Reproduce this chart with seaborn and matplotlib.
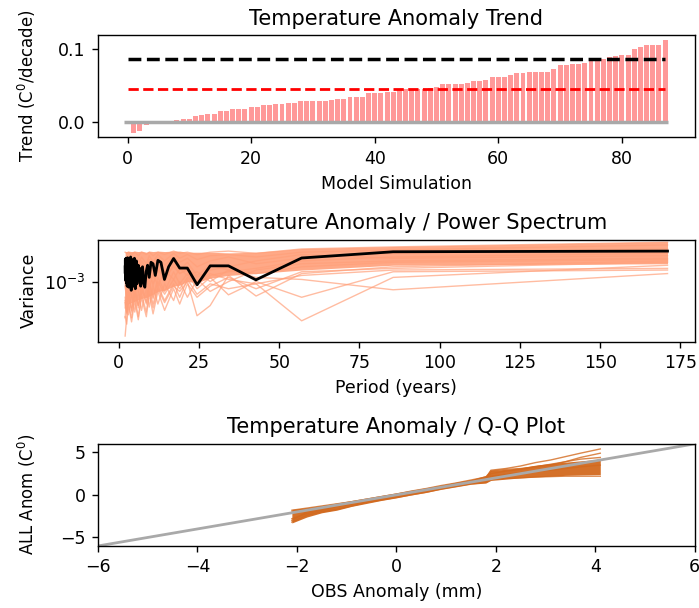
import numpy as np
import pandas as pd
import seaborn as sns
import matplotlib
matplotlib.use("Agg")
import matplotlib.pyplot as plt
from matplotlib.ticker import NullLocator

#######################################################
# Panel 1: trend of each model simulation (sorted), C0/decade
model_trend = [0.0, -0.014, -0.012, -0.004, 0.0, 0.0, 0.0, 0.0, 0.003, 0.005,
               0.005, 0.0086, 0.0104, 0.012, 0.012, 0.0154, 0.0154, 0.0176, 0.0176, 0.0176,
               0.021, 0.021, 0.023, 0.023, 0.025, 0.025, 0.0267, 0.0267, 0.0285, 0.0285,
               0.0285, 0.0285, 0.0285, 0.0303, 0.0321, 0.0321, 0.0339, 0.0339, 0.0339, 0.0394,
               0.0394, 0.0394, 0.0412, 0.0412, 0.0448, 0.0448, 0.0448, 0.0448, 0.0457, 0.0466,
               0.0484, 0.0516, 0.0516, 0.0516, 0.0516, 0.0538, 0.0557, 0.0557, 0.0575, 0.0611,
               0.0611, 0.0611, 0.0647, 0.0665, 0.0665, 0.0683, 0.0683, 0.0683, 0.0683, 0.0719,
               0.0774, 0.0774, 0.0792, 0.0792, 0.0810, 0.0828, 0.0846, 0.0864, 0.0882, 0.0900,
               0.0910, 0.0919, 0.0991, 0.1027, 0.1045, 0.1045, 0.1045, 0.1118]
model_sim = list(range(len(model_trend)))
obs_trend = 0.0865        # black dashed
ens_mean_trend = 0.0455   # red dashed

#######################################################
# Panel 2: power spectrum (variance in units of 1e-3)
obs_period = [171.00, 85.50, 57.00, 42.75, 34.20, 28.50, 24.43, 21.38, 19.00, 17.10,
              15.55, 14.25, 13.15, 12.21, 11.40, 10.69, 10.06, 9.50, 9.00, 8.55,
              8.14, 7.77, 7.43, 7.13, 6.84, 6.58, 6.33, 6.11, 5.90, 5.70,
              5.52, 5.34, 5.18, 5.03, 4.89, 4.75, 4.62, 4.50, 4.38, 4.28,
              4.17, 4.07, 3.98, 3.89, 3.80, 3.72, 3.64, 3.56, 3.49, 3.42,
              3.35, 3.29, 3.23, 3.17, 3.11, 3.05, 3.00, 2.95, 2.90, 2.85,
              2.80, 2.76, 2.71, 2.67, 2.63, 2.59, 2.55, 2.51, 2.48, 2.44,
              2.41, 2.38, 2.34, 2.31, 2.28, 2.25, 2.22, 2.19, 2.16, 2.14,
              2.11, 2.09, 2.06, 2.04, 2.01]
obs_var = [2.00, 1.97, 1.71, 1.04, 1.43, 1.43, 0.93, 1.36, 1.36, 1.69,
           1.40, 1.05, 1.55, 1.62, 1.15, 1.50, 1.55, 1.10, 1.45, 1.25,
           0.88, 0.95, 1.40, 1.30, 0.90, 1.35, 1.20, 1.45, 1.10, 0.95,
           1.60, 1.30, 0.85, 1.20, 1.70, 1.05, 0.90, 1.45, 1.25, 1.65,
           0.95, 1.10, 1.55, 0.82, 1.35, 1.75, 1.15, 0.92, 1.50, 1.40,
           1.00, 1.70, 1.20, 0.88, 1.60, 1.30, 1.05, 1.65, 0.95, 1.45,
           1.25, 1.72, 1.00, 1.35, 0.90, 1.55, 1.15, 1.68, 1.40, 0.97,
           1.28, 1.62, 1.08, 1.50, 1.22, 1.70, 1.02, 1.38, 1.58, 1.12,
           1.45, 1.30, 1.65, 1.20, 1.40]

ens_period = [171.0, 85.5, 57.0, 42.8, 34.2, 28.5, 24.4, 21.4, 19.0, 17.1, 14.3,
              12.2, 10.7, 9.5, 8.6, 7.1, 6.1, 5.0, 4.0, 3.0, 2.5, 2.0]
# dense core of the model ensemble
ens_upper = [2.48, 2.22, 2.12, 1.95, 1.92, 1.95, 1.95, 1.95, 2.00, 2.00, 1.98,
             2.00, 1.98, 2.00, 1.95, 2.00, 1.98, 2.00, 1.98, 2.00, 1.98, 1.98]
ens_lower = [1.50, 1.45, 1.30, 1.20, 1.15, 1.08, 0.98, 1.00, 0.92, 0.90, 0.82,
             0.80, 0.75, 0.72, 0.70, 0.68, 0.66, 0.64, 0.62, 0.60, 0.60, 0.60]
# individual model runs
ens_runs = {
    "m1": [1.45, 1.10, 0.41, 0.95, 1.05, 1.20, 1.00, 1.30, 1.20, 1.40, 1.10,
           1.30, 0.95, 1.25, 1.00, 1.35, 0.90, 1.20, 0.80, 1.10, 0.60, 1.00],
    "m2": [1.20, 0.83, 1.05, 1.10, 1.30, 1.00, 1.25, 1.15, 1.35, 1.05, 1.30,
           0.90, 1.20, 0.85, 1.15, 0.75, 1.10, 0.70, 1.00, 0.65, 0.95, 0.55],
    "m3": [1.30, 1.25, 0.70, 1.00, 0.74, 1.10, 0.85, 1.20, 0.95, 1.25, 0.80,
           1.10, 0.70, 1.05, 0.60, 0.95, 0.55, 0.90, 0.50, 0.80, 0.45, 0.29],
    "m4": [1.60, 1.40, 1.20, 0.72, 1.15, 0.58, 0.46, 1.00, 0.80, 0.90, 0.62,
           0.85, 0.55, 0.80, 0.50, 0.75, 0.45, 0.70, 0.44, 0.60, 0.50, 0.65],
    "m5": [2.45, 2.20, 2.10, 1.90, 2.00, 1.95, 1.85, 1.95, 1.90, 2.00, 1.85,
           1.95, 1.80, 1.95, 1.85, 1.95, 1.80, 1.95, 1.85, 1.95, 1.90, 1.95],
    "m6": [2.10, 1.90, 1.70, 1.50, 1.75, 1.60, 1.40, 1.70, 1.55, 1.75, 1.45,
           1.70, 1.40, 1.65, 1.35, 1.60, 1.30, 1.55, 1.25, 1.50, 1.20, 1.45],
    "m7": [1.80, 1.70, 1.85, 1.60, 1.40, 1.30, 1.10, 1.35, 1.20, 1.50, 1.00,
           1.40, 0.90, 1.30, 0.85, 1.20, 0.80, 1.10, 0.70, 1.00, 0.65, 0.90],
    "m8": [1.35, 1.30, 1.15, 0.95, 0.85, 0.95, 0.75, 1.05, 0.70, 0.95, 0.65,
           0.90, 0.60, 0.85, 0.70, 0.80, 0.58, 0.75, 0.52, 0.70, 0.48, 0.62],
    "m9": [1.65, 1.55, 1.40, 1.20, 1.30, 1.45, 1.15, 1.55, 1.30, 1.60, 1.20,
           1.55, 1.10, 1.50, 1.05, 1.45, 1.00, 1.40, 0.95, 1.35, 0.90, 1.30],
    "m10": [2.30, 2.05, 1.95, 1.75, 1.85, 1.80, 1.65, 1.85, 1.70, 1.90, 1.60,
            1.85, 1.55, 1.80, 1.50, 1.75, 1.45, 1.70, 1.40, 1.65, 1.35, 1.60],
    "m11": [1.55, 1.35, 1.25, 0.85, 1.10, 0.90, 0.70, 0.95, 0.60, 0.85, 0.52,
            0.80, 0.48, 0.75, 0.45, 0.70, 0.42, 0.65, 0.40, 0.60, 0.38, 0.45],
    "m12": [1.90, 1.75, 1.60, 1.35, 1.25, 1.15, 0.95, 1.10, 0.85, 1.05, 0.75,
            1.00, 0.68, 0.95, 0.62, 0.90, 0.58, 0.85, 0.55, 0.80, 0.50, 0.70],
    "m13": [1.70, 1.60, 1.50, 1.30, 1.00, 0.80, 1.05, 0.70, 1.00, 0.65, 0.95,
            0.60, 0.90, 0.56, 0.85, 0.52, 0.80, 0.50, 0.75, 0.47, 0.70, 0.44],
}

#######################################################
# Panel 3: Q-Q plot
obs_q = [-2.1, -1.8, -1.5, -1.2, -0.9, -0.6, -0.3, 0.0, 0.3, 0.6, 0.9,
         1.2, 1.5, 1.8, 1.9, 2.2, 2.5, 2.8, 3.1, 3.4, 3.7, 4.1]
qq_lower = [-3.3, -2.6, -2.1, -1.8, -1.35, -1.0, -0.65, -0.35, 0.0, 0.3, 0.65,
            0.95, 1.25, 1.4, 1.7, 1.85, 2.0, 2.1, 2.2, 2.3, 2.35, 2.4]
qq_upper = [-1.7, -1.5, -1.25, -1.0, -0.7, -0.45, -0.15, 0.2, 0.5, 0.8, 1.15,
            1.5, 1.8, 2.3, 2.9, 3.0, 3.2, 3.5, 3.7, 3.85, 4.0, 4.2]
qq_runs = {
    "m1": [-2.0, -1.7, -1.4, -1.1, -0.8, -0.5, -0.2, 0.1, 0.4, 0.7, 1.0,
           1.3, 1.6, 1.9, 2.9, 3.1, 3.4, 3.8, 4.1, 4.5, 4.9, 5.4],
    "m2": [-3.2, -2.4, -2.0, -1.7, -1.3, -0.9, -0.6, -0.3, 0.0, 0.3, 0.7,
           1.0, 1.3, 1.45, 1.8, 1.95, 2.0, 2.1, 2.15, 2.2, 2.2, 2.2],
    "m3": [-1.8, -1.55, -1.3, -1.05, -0.8, -0.5, -0.2, 0.1, 0.45, 0.75, 1.1,
           1.4, 1.75, 2.1, 2.8, 3.0, 3.1, 3.3, 3.5, 3.9, 4.4, 4.9],
    "m4": [-2.8, -2.2, -1.8, -1.4, -1.1, -0.8, -0.45, -0.15, 0.2, 0.5, 0.85,
           1.15, 1.45, 1.7, 2.2, 2.4, 2.6, 2.8, 2.9, 3.1, 3.3, 3.5],
    "m5": [-3.0, -2.0, -1.6, -1.3, -0.95, -0.65, -0.35, -0.05, 0.3, 0.6, 0.95,
           1.25, 1.55, 1.9, 2.5, 2.8, 3.0, 3.3, 3.6, 3.9, 4.2, 4.4],
}
one_to_one = [-6, 6]

#######################################################
dpi = 125  # reference text and lines are ~1.25x the default size
fig = plt.figure(figsize=(699 / dpi, 608 / dpi), dpi=dpi)
ax1, ax2, ax3 = fig.subplots(3, 1)
fig.subplots_adjust(left=0.14, right=0.994, top=0.942, bottom=0.102, hspace=1.0)

# --- Trend bars
sns.barplot(x=model_sim, y=model_trend, native_scale=True, color="red", alpha=0.4,
            saturation=1, errorbar=None, linewidth=0, ax=ax1)
ax1.hlines(0, model_sim[0] - 0.5, model_sim[-1] + 0.5, color="darkgrey", lw=2)
ax1.hlines(obs_trend, model_sim[0], model_sim[-1], color="black", ls="--", lw=2)
ax1.hlines(ens_mean_trend, model_sim[0], model_sim[-1], color="red", ls="--", lw=1.6)
ax1.set_xlim(-4.8, 91.8)
ax1.set_xticks([0, 20, 40, 60, 80])
ax1.set_yticks([0.0, 0.1])
ax1.set_title("Temperature Anomaly Trend")
ax1.set_xlabel("Model Simulation")
ax1.set_ylabel("Trend (C$^0$/decade)", fontsize=9.5)

# --- Power spectrum
rows = []
for name, vals in ens_runs.items():
    for p, v in zip(ens_period, vals):
        rows.append((name, p, v * 1e-3))
df_runs = pd.DataFrame(rows, columns=["model", "period", "variance"])

ax2.fill_between(ens_period, np.array(ens_lower) * 1e-3, np.array(ens_upper) * 1e-3,
                 color="lightsalmon", alpha=0.9, lw=0)
sns.lineplot(data=df_runs, x="period", y="variance", units="model", estimator=None,
             sort=False, color="lightsalmon", lw=0.8, alpha=0.7, ax=ax2)
sns.lineplot(x=obs_period, y=np.array(obs_var) * 1e-3, sort=False, estimator=None,
             color="black", lw=1.6, ax=ax2)
ax2.set_yscale("log")
ax2.yaxis.set_minor_locator(NullLocator())
ax2.set_ylim(2.55e-4, 2.6e-3)
ax2.set_xticks([0, 25, 50, 75, 100, 125, 150, 175])
ax2.set_xlim(-6.5, 179.5)
ax2.set_title("Temperature Anomaly / Power Spectrum")
ax2.set_xlabel("Period (years)")
ax2.set_ylabel("Variance")

# --- Q-Q plot
rows = []
for name, vals in qq_runs.items():
    for q, v in zip(obs_q, vals):
        rows.append((name, q, v))
df_qq = pd.DataFrame(rows, columns=["model", "obs", "all"])

ax3.fill_between(obs_q, qq_lower, qq_upper, color="chocolate", alpha=0.95, lw=0)
sns.lineplot(data=df_qq, x="obs", y="all", units="model", estimator=None, sort=False,
             color="chocolate", lw=0.8, alpha=0.8, ax=ax3)
ax3.plot(one_to_one, one_to_one, color="darkgrey", lw=1.6)
ax3.set_xlim(-6, 6)
ax3.set_ylim(-6, 6)
ax3.set_xticks([-6, -4, -2, 0, 2, 4, 6])
ax3.set_yticks([-5, 0, 5])
ax3.set_title("Temperature Anomaly / Q-Q Plot")
ax3.set_xlabel("OBS Anomaly (mm)")
ax3.set_ylabel("ALL Anom (C$^0$)", fontsize=9.5)

fig.align_ylabels([ax1, ax2, ax3])
fig.savefig("out.png", dpi=dpi)
